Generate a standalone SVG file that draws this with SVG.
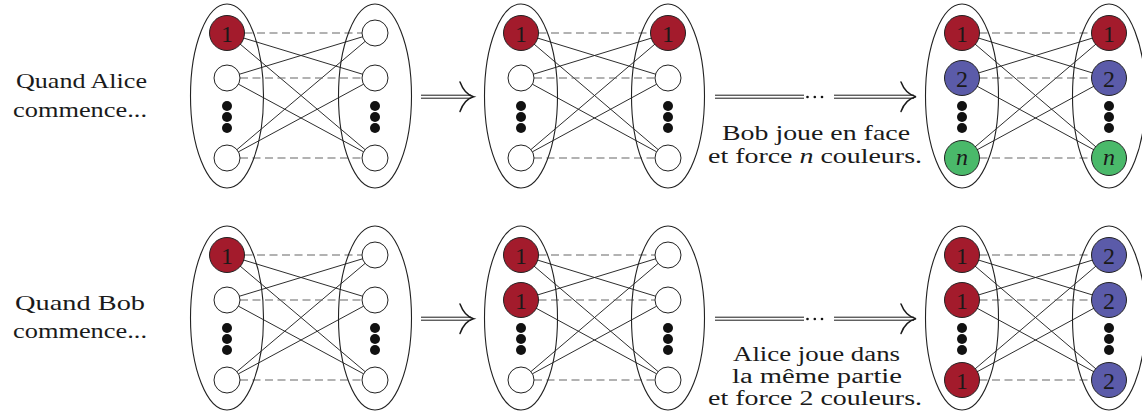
<svg xmlns="http://www.w3.org/2000/svg" width="1142" height="414" viewBox="0 0 1142 414">
<style>
.ell{fill:none;stroke:#222;stroke-width:1.1}
.e{stroke:#222;stroke-width:0.95;fill:none}
.d{stroke:#666;stroke-width:1.2;stroke-dasharray:8 4.5;fill:none}
.w{fill:#fff;stroke:#222;stroke-width:1}
.r{fill:#a31b2c;stroke:#222;stroke-width:1}
.b{fill:#5b5ba9;stroke:#222;stroke-width:1}
.g{fill:#4ab96a;stroke:#222;stroke-width:1}
.dot{fill:#111}
.lbl{font-size:24px;text-anchor:middle;fill:#1a1a1a}
.it{font-style:italic}
.txt{font-size:22px;text-anchor:middle;fill:#1a1a1a}
.sm{font-size:20px}
.dl{stroke:#1a1a1a;stroke-width:1;fill:none}
.hd{stroke:#1a1a1a;stroke-width:1.5;fill:none;stroke-linecap:round}
</style>

<g id="labels" font-family="'Liberation Serif', 'Times New Roman', serif">
<text class="txt" x="81.5" y="88" textLength="131" lengthAdjust="spacingAndGlyphs">Quand Alice</text>
<text class="txt" x="80" y="116.5" textLength="134" lengthAdjust="spacingAndGlyphs">commence...</text>
<text class="txt" x="80" y="310" textLength="130" lengthAdjust="spacingAndGlyphs">Quand Bob</text>
<text class="txt" x="80" y="338" textLength="134" lengthAdjust="spacingAndGlyphs">commence...</text>
<text class="txt" x="816" y="140" textLength="188" lengthAdjust="spacingAndGlyphs">Bob joue en face</text>
<text class="txt" x="815" y="163" textLength="214" lengthAdjust="spacingAndGlyphs">et force <tspan class="it">n</tspan> couleurs.</text>
<text class="txt sm" x="816.5" y="361" textLength="167" lengthAdjust="spacingAndGlyphs">Alice joue dans</text>
<text class="txt sm" x="817" y="383" textLength="170" lengthAdjust="spacingAndGlyphs">la même partie</text>
<text class="txt sm" x="815" y="405" textLength="214" lengthAdjust="spacingAndGlyphs">et force 2 couleurs.</text>
</g>

<g id="arrows">
<path class="dl" d="M421,95.2H471M421,98.2H471"/>
<path class="hd" d="M460,82C463,90 467,95 473.5,96.7C467,98.4 463,103 460,111.5"/>
<path class="dl" d="M715,95.2H804M715,98.2H804M834,95.2H914M834,98.2H914"/>
<circle class="dot" cx="807.5" cy="97" r="1.3"/><circle class="dot" cx="814.8" cy="97" r="1.3"/><circle class="dot" cx="822" cy="97" r="1.3"/>
<path class="hd" d="M901,82C904,90 909,95 916,96.7C909,98.4 904,103 901,111.5"/>
<path class="dl" d="M421,317.2H471M421,320.2H471"/>
<path class="hd" d="M460,304C463,312 467,317 473.5,318.7C467,320.4 463,325 460,333.5"/>
<path class="dl" d="M715,317.2H804M715,320.2H804M834,317.2H914M834,320.2H914"/>
<circle class="dot" cx="807.5" cy="319" r="1.3"/><circle class="dot" cx="814.8" cy="319" r="1.3"/><circle class="dot" cx="822" cy="319" r="1.3"/>
<path class="hd" d="M901,304C904,312 909,317 916,318.7C909,320.4 904,325 901,333.5"/>
</g>

<g id="connectors">
<path class="e" d="M227,33L375,78M227,33L375,158M227,78L375,33M227,78L375,158M227,158L375,33M227,158L375,78"/>
<path class="d" d="M244.5,33H362M240,78H362M240,158H362"/>
<path class="e" d="M521,33L668,78M521,33L668,158M521,78L668,33M521,78L668,158M521,158L668,33M521,158L668,78"/>
<path class="d" d="M538.5,33H650.5M534,78H655M534,158H655"/>
<path class="e" d="M962,33L1109,78M962,33L1109,158M962,78L1109,33M962,78L1109,158M962,158L1109,33M962,158L1109,78"/>
<path class="d" d="M979.5,33H1091.5M979.5,78H1091.5M979.5,158H1091.5"/>
<path class="e" d="M227,255L375,300M227,255L375,380M227,300L375,255M227,300L375,380M227,380L375,255M227,380L375,300"/>
<path class="d" d="M244.5,255H362M240,300H362M240,380H362"/>
<path class="e" d="M521,255L668,300M521,255L668,380M521,300L668,255M521,300L668,380M521,380L668,255M521,380L668,300"/>
<path class="d" d="M538.5,255H655M538.5,300H655M534,380H655"/>
<path class="e" d="M962,255L1109,300M962,255L1109,380M962,300L1109,255M962,300L1109,380M962,380L1109,255M962,380L1109,300"/>
<path class="d" d="M979.5,255H1091.5M979.5,300H1091.5M979.5,380H1091.5"/>
</g>

<g id="parts">
<ellipse class="ell" cx="227" cy="96" rx="36.5" ry="92"/>
<ellipse class="ell" cx="375" cy="96" rx="36.5" ry="92"/>
<ellipse class="ell" cx="521" cy="96" rx="36.5" ry="92"/>
<ellipse class="ell" cx="668" cy="96" rx="36.5" ry="92"/>
<ellipse class="ell" cx="962" cy="96" rx="36.5" ry="92"/>
<ellipse class="ell" cx="1109" cy="96" rx="36.5" ry="92"/>
<ellipse class="ell" cx="227" cy="318" rx="36.5" ry="92"/>
<ellipse class="ell" cx="375" cy="318" rx="36.5" ry="92"/>
<ellipse class="ell" cx="521" cy="318" rx="36.5" ry="92"/>
<ellipse class="ell" cx="668" cy="318" rx="36.5" ry="92"/>
<ellipse class="ell" cx="962" cy="318" rx="36.5" ry="92"/>
<ellipse class="ell" cx="1109" cy="318" rx="36.5" ry="92"/>
</g>

<g id="dots">
<g class="dot">
<circle cx="227" cy="106" r="5"/><circle cx="227" cy="117" r="5"/><circle cx="227" cy="128" r="5"/>
<circle cx="375" cy="106" r="5"/><circle cx="375" cy="117" r="5"/><circle cx="375" cy="128" r="5"/>
<circle cx="521" cy="106" r="5"/><circle cx="521" cy="117" r="5"/><circle cx="521" cy="128" r="5"/>
<circle cx="668" cy="106" r="5"/><circle cx="668" cy="117" r="5"/><circle cx="668" cy="128" r="5"/>
<circle cx="962" cy="106" r="5"/><circle cx="962" cy="117" r="5"/><circle cx="962" cy="128" r="5"/>
<circle cx="1109" cy="106" r="5"/><circle cx="1109" cy="117" r="5"/><circle cx="1109" cy="128" r="5"/>
<circle cx="227" cy="328" r="5"/><circle cx="227" cy="339" r="5"/><circle cx="227" cy="350" r="5"/>
<circle cx="375" cy="328" r="5"/><circle cx="375" cy="339" r="5"/><circle cx="375" cy="350" r="5"/>
<circle cx="521" cy="328" r="5"/><circle cx="521" cy="339" r="5"/><circle cx="521" cy="350" r="5"/>
<circle cx="668" cy="328" r="5"/><circle cx="668" cy="339" r="5"/><circle cx="668" cy="350" r="5"/>
<circle cx="962" cy="328" r="5"/><circle cx="962" cy="339" r="5"/><circle cx="962" cy="350" r="5"/>
<circle cx="1109" cy="328" r="5"/><circle cx="1109" cy="339" r="5"/><circle cx="1109" cy="350" r="5"/>
</g>
</g>

<g id="nodes" font-family="'Liberation Serif', 'Times New Roman', serif">
<g id="t1-a1"><circle class="r" cx="227" cy="33" r="17.5"/><text class="lbl" x="227" y="41.5">1</text></g>
<g id="t1-a2"><circle class="w" cx="227" cy="78" r="13"/></g>
<g id="t1-an"><circle class="w" cx="227" cy="158" r="13"/></g>
<g id="t1-b1"><circle class="w" cx="375" cy="33" r="13"/></g>
<g id="t1-b2"><circle class="w" cx="375" cy="78" r="13"/></g>
<g id="t1-bn"><circle class="w" cx="375" cy="158" r="13"/></g>
<g id="t2-a1"><circle class="r" cx="521" cy="33" r="17.5"/><text class="lbl" x="521" y="41.5">1</text></g>
<g id="t2-a2"><circle class="w" cx="521" cy="78" r="13"/></g>
<g id="t2-an"><circle class="w" cx="521" cy="158" r="13"/></g>
<g id="t2-b1"><circle class="r" cx="668" cy="33" r="17.5"/><text class="lbl" x="668" y="41.5">1</text></g>
<g id="t2-b2"><circle class="w" cx="668" cy="78" r="13"/></g>
<g id="t2-bn"><circle class="w" cx="668" cy="158" r="13"/></g>
<g id="t3-a1"><circle class="r" cx="962" cy="33" r="17.5"/><text class="lbl" x="962" y="41.5">1</text></g>
<g id="t3-a2"><circle class="b" cx="962" cy="78" r="17.5"/><text class="lbl" x="962" y="86.5">2</text></g>
<g id="t3-an"><circle class="g" cx="962" cy="158" r="17.5"/><text class="lbl it" x="962" y="165">n</text></g>
<g id="t3-b1"><circle class="r" cx="1109" cy="33" r="17.5"/><text class="lbl" x="1109" y="41.5">1</text></g>
<g id="t3-b2"><circle class="b" cx="1109" cy="78" r="17.5"/><text class="lbl" x="1109" y="86.5">2</text></g>
<g id="t3-bn"><circle class="g" cx="1109" cy="158" r="17.5"/><text class="lbl it" x="1109" y="165">n</text></g>
<g id="b1-a1"><circle class="r" cx="227" cy="255" r="17.5"/><text class="lbl" x="227" y="263.5">1</text></g>
<g id="b1-a2"><circle class="w" cx="227" cy="300" r="13"/></g>
<g id="b1-an"><circle class="w" cx="227" cy="380" r="13"/></g>
<g id="b1-b1"><circle class="w" cx="375" cy="255" r="13"/></g>
<g id="b1-b2"><circle class="w" cx="375" cy="300" r="13"/></g>
<g id="b1-bn"><circle class="w" cx="375" cy="380" r="13"/></g>
<g id="b2-a1"><circle class="r" cx="521" cy="255" r="17.5"/><text class="lbl" x="521" y="263.5">1</text></g>
<g id="b2-a2"><circle class="r" cx="521" cy="300" r="17.5"/><text class="lbl" x="521" y="308.5">1</text></g>
<g id="b2-an"><circle class="w" cx="521" cy="380" r="13"/></g>
<g id="b2-b1"><circle class="w" cx="668" cy="255" r="13"/></g>
<g id="b2-b2"><circle class="w" cx="668" cy="300" r="13"/></g>
<g id="b2-bn"><circle class="w" cx="668" cy="380" r="13"/></g>
<g id="b3-a1"><circle class="r" cx="962" cy="255" r="17.5"/><text class="lbl" x="962" y="263.5">1</text></g>
<g id="b3-a2"><circle class="r" cx="962" cy="300" r="17.5"/><text class="lbl" x="962" y="308.5">1</text></g>
<g id="b3-an"><circle class="r" cx="962" cy="380" r="17.5"/><text class="lbl" x="962" y="388.5">1</text></g>
<g id="b3-b1"><circle class="b" cx="1109" cy="255" r="17.5"/><text class="lbl" x="1109" y="263.5">2</text></g>
<g id="b3-b2"><circle class="b" cx="1109" cy="300" r="17.5"/><text class="lbl" x="1109" y="308.5">2</text></g>
<g id="b3-bn"><circle class="b" cx="1109" cy="380" r="17.5"/><text class="lbl" x="1109" y="388.5">2</text></g>
</g>
</svg>
